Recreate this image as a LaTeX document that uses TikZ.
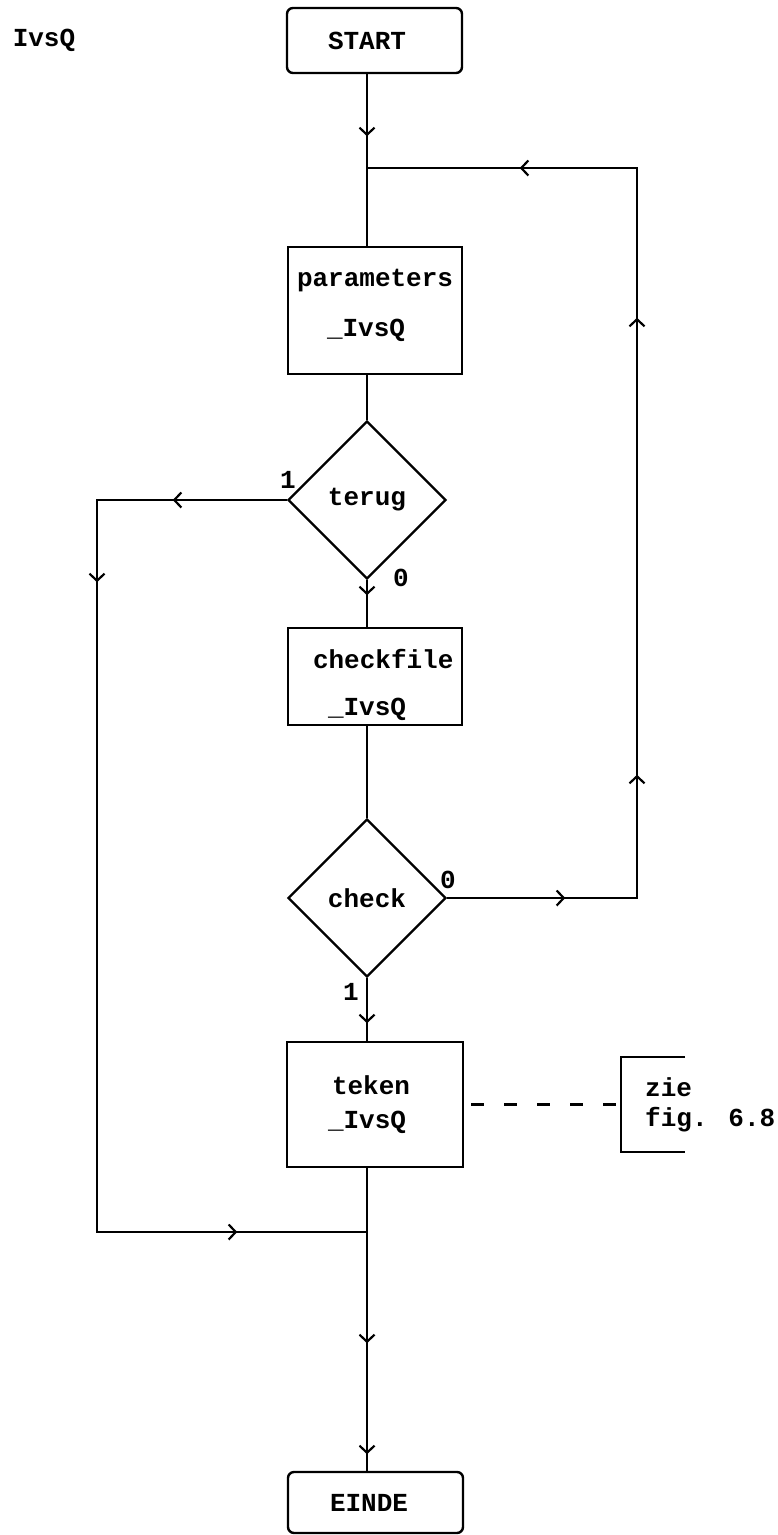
\documentclass[tikz,border=0pt]{standalone}
\usepackage{fontspec}
\newfontfamily\lp{Liberation Mono}
\usetikzlibrary{shapes.geometric,arrows.meta,decorations.markings}
\tikzset{
  txt/.style={font=\lp\bfseries\fontsize{26}{30}\selectfont, inner sep=0pt},
  pbox/.style={txt, draw, line width=2.4pt},
  tbox/.style={pbox, rounded corners=6pt},
  dia/.style={txt, draw, line width=2.4pt, diamond, minimum width=158pt, minimum height=158pt},
  conn/.style={line width=2.2pt},
  ah/.style={postaction={decorate, decoration={markings, mark=at position #1 with {\arrow[line width=2.2pt]{Straight Barb[length=7pt,width=15pt]}}}}}
}
\newcommand{\boxtext}[3]{\raisebox{#1}[\height][\depth]{\parbox{#2}{\raggedright #3}}}
\begin{document}
\begin{tikzpicture}[x=1pt,y=-1pt]
\useasboundingbox (0,0) rectangle (777,1535);
% title
\node[txt] (title) at (44,40) {IvsQ};
% nodes
\node[tbox, minimum width=175pt, minimum height=65pt] (start) at (374.5,40.5) {\boxtext{0pt}{175pt}{\hspace*{41pt}START}};
\node[pbox, minimum width=174pt, minimum height=127pt] (par) at (375,310.5) {\boxtext{5pt}{174pt}{\hspace*{9pt}parameters\\[20pt]\hspace*{39pt}\_IvsQ}};
\node[dia] (terug) at (367,500) {terug};
\node[pbox, minimum width=174pt, minimum height=97pt] (cf) at (375,676.5) {\boxtext{-8pt}{174pt}{\hspace*{25pt}checkfile\\[17pt]\hspace*{40pt}\_IvsQ}};
\node[dia] (check) at (367,898) {check};
\node[pbox, minimum width=176pt, minimum height=125pt] (teken) at (375,1104.5) {\boxtext{0pt}{176pt}{\hspace*{45pt}teken\\[4pt]\hspace*{41pt}\_IvsQ}};
\node[tbox, minimum width=175pt, minimum height=61pt] (einde) at (375.5,1502.5) {\boxtext{0pt}{175pt}{\hspace*{42pt}EINDE}};
\node[txt, anchor=west, minimum height=95pt, inner xsep=24pt, align=left] (zie) at (621,1104.5) {zie\\fig. 6.8};
% labels
\node[txt] (l1a) at (288,480) {1};
\node[txt] (l0a) at (401,578) {0};
\node[txt] (l0b) at (448,880) {0};
\node[txt] (l1b) at (351,992) {1};
% coordinates
\coordinate (j1) at (367,168);
\coordinate (rx) at (637,168);
\coordinate (lx) at (97,1232);
\coordinate (j2) at (367,1232);
% connectors
\draw[conn, ah=62pt] (start.south -| j1) -- (par.north -| j1);
\draw[conn] (par.south -| j1) -- (terug.north);
\draw[conn, ah=15pt] (terug.south) -- (cf.north -| terug.south);
\draw[conn] (cf.south -| j1) -- (check.north);
\draw[conn, ah=45pt] (check.south) -- (teken.north -| check.south);
\draw[conn, ah=175pt, ah=286pt] (teken.south -| j1) -- (einde.north -| j1);
\draw[conn, ah=118pt, ah=313pt, ah=770pt, ah=1037pt] (check.east) -| (rx) -- (j1);
\draw[conn, ah=114pt, ah=272pt, ah=1062pt] (terug.west) -| (lx) -- (j2);
\draw[conn, dash pattern=on 13pt off 20pt, dash phase=26pt] (teken.east) -- (zie.west);
\draw[conn] ([xshift=64pt]zie.north west) -- (zie.north west) -- (zie.south west) -- ([xshift=64pt]zie.south west);
\end{tikzpicture}
\end{document}
